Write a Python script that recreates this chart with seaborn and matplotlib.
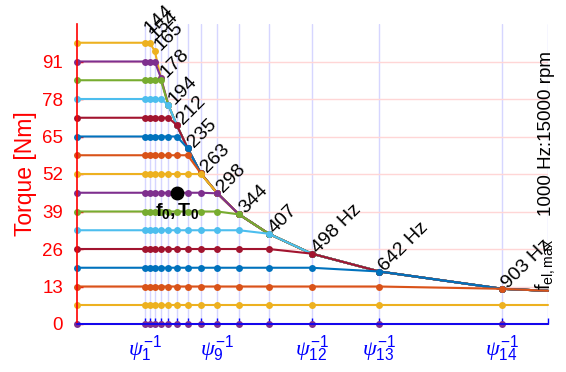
import numpy as np
import pandas as pd
import matplotlib
matplotlib.use("Agg")
import matplotlib.pyplot as plt
import matplotlib.transforms as mtransforms
import seaborn as sns

# Corner frequencies of the flux steps [Hz] and the electrical frequency limit
corner_freqs = [144, 154, 165, 178, 194, 212, 235, 263, 298, 344, 407, 498, 642, 903]
f_el_max = 1000
# Maximum torque available at each corner frequency [Nm]
torque_limit = [100.5, 98.5, 94.7, 85.4, 75.9, 68.9, 60.9, 52.2, 45.3, 38.0, 31.3, 24.4, 18.2, 12.2]
torque_limit_fmax = 11.5
# Torque command levels [Nm], highest first
torque_levels = [97.5, 91, 84.5, 78, 71.5, 65, 58.5, 52, 45.5, 39, 32.5, 26, 19.5, 13, 6.5, 0]
level_colors = ["#EDB120", "#7E2F8E", "#77AC30", "#4DBEEE", "#A2142F", "#0072BD", "#D95319",
                "#EDB120", "#7E2F8E", "#77AC30", "#4DBEEE", "#A2142F", "#0072BD", "#D95319",
                "#EDB120", "#7E2F8E"]
# Operating point
f0, T0 = 212, 45.5
# Flux indices shown under selected corner frequencies
psi_tick_freqs = [144, 298, 498, 642, 903]
psi_tick_index = [1, 9, 12, 13, 14]
y_ticks = [0, 13, 26, 39, 52, 65, 78, 91]

sns.set_theme(style="white")
plt.rcParams["font.family"] = ["Liberation Sans", "DejaVu Sans"]
plt.rcParams["mathtext.fontset"] = "custom"
plt.rcParams["mathtext.rm"] = "Liberation Sans"
plt.rcParams["mathtext.bf"] = "Liberation Sans:bold"
plt.rcParams["mathtext.it"] = "Liberation Serif:italic"

# Torque/frequency curves: each level is clipped by the torque limit
freq_axis = [0] + corner_freqs + [f_el_max]
limit_axis = [np.inf] + torque_limit + [torque_limit_fmax]
rows = []
for lvl in torque_levels:
    for f, lim in zip(freq_axis, limit_axis):
        rows.append({"f": f, "T": min(lvl, lim), "level": lvl})
curves = pd.DataFrame(rows)

fig = plt.figure(figsize=(5.66, 3.72), dpi=100)
ax = fig.add_axes([77 / 566, 48 / 372, 471 / 566, 300 / 372])

palette = dict(zip(torque_levels, level_colors))
n_pts = len(freq_axis)
sns.lineplot(data=curves, x="f", y="T", hue="level", hue_order=torque_levels,
             palette=palette, estimator=None, sort=False, legend=False,
             lw=1.5, marker="o", markersize=5, markeredgewidth=0,
             markevery=list(range(n_pts - 1)), clip_on=False, ax=ax)

# Operating point
ax.plot([f0], [T0], "o", color="black", markersize=9, zorder=5)
ax.text(f0, T0 - 3.0, r"$\mathbf{f_0,T_0}$", ha="center", va="top",
        fontsize=14, color="black")

# Corner frequency annotations along the torque limit
shift = mtransforms.ScaledTranslation(4.3 / 72, 0, fig.dpi_scale_trans)
for i, (f, lim) in enumerate(zip(corner_freqs, torque_limit)):
    label = f"{f} Hz" if i >= len(corner_freqs) - 3 else f"{f}"
    ax.text(f, lim, label, rotation=45, rotation_mode="anchor", ha="left",
            va="baseline", fontsize=14, color="black",
            transform=ax.transData + shift)

ax.text(1006, 37.5, "1000 Hz:15000 rpm", rotation=90, rotation_mode="anchor",
        ha="left", va="baseline", fontsize=13.5, color="black")
ax.text(1004, 11.8, r"f$_{\mathrm{el,max}}$", rotation=90, rotation_mode="anchor",
        ha="left", va="baseline", fontsize=14.5, color="black")

ax.set_xlim(0, f_el_max)
ax.set_ylim(0, 104)

xtick_pos = corner_freqs + [f_el_max]
xtick_lab = []
for f in xtick_pos:
    if f in psi_tick_freqs:
        k = psi_tick_index[psi_tick_freqs.index(f)]
        xtick_lab.append(r"$\psi^{\mathrm{-1}}_{\mathrm{%d}}$" % k)
    else:
        xtick_lab.append("")
ax.set_xticks(xtick_pos)
ax.set_xticklabels(xtick_lab)
ax.set_yticks(y_ticks)
ax.set_yticklabels([str(v) for v in y_ticks])

ax.tick_params(axis="x", direction="in", length=4, width=1, color="blue",
               labelcolor="blue", labelsize=16, pad=7, bottom=True)
ax.tick_params(axis="y", direction="in", length=4, width=1, color="red",
               labelcolor="red", labelsize=13.5, pad=10, left=True)

ax.set_xlabel("")
ax.set_ylabel("Torque [Nm]", color="red", fontsize=16.5, labelpad=4)

ax.xaxis.grid(True, color=(0.84, 0.84, 1.0), lw=1)
ax.yaxis.grid(True, color=(1.0, 0.84, 0.84), lw=1)
ax.set_axisbelow(True)

for side in ("top", "right"):
    ax.spines[side].set_visible(False)
ax.spines["left"].set_color("red")
ax.spines["left"].set_linewidth(1.2)
ax.spines["bottom"].set_color("blue")
ax.spines["bottom"].set_linewidth(1.2)

fig.savefig("out.png", dpi=100)
